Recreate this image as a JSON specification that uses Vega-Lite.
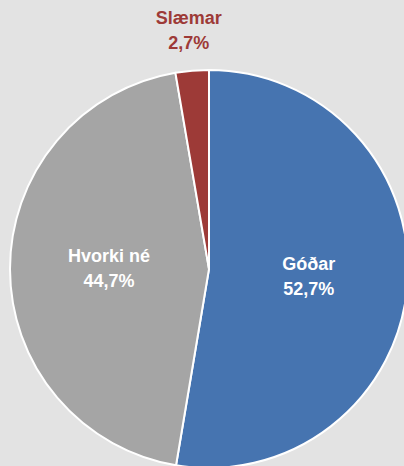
{
  "$schema": "https://vega.github.io/schema/vega-lite/v6.json",
  "width": 404,
  "height": 466,
  "autosize": "none",
  "padding": 0,
  "background": "#e3e3e3",
  "config": {"view": {"stroke": null}},
  "data": {
    "values": [
      {"nr": 1, "flokkur": "Góðar", "hlutfall": 52.7, "merki": "Góðar\n52,7%"},
      {"nr": 2, "flokkur": "Hvorki né", "hlutfall": 44.7, "merki": "Hvorki né\n44,7%"},
      {"nr": 3, "flokkur": "Slæmar", "hlutfall": 2.7, "merki": "Slæmar\n2,7%"}
    ]
  },
  "encoding": {
    "theta": {"field": "hlutfall", "type": "quantitative", "stack": true},
    "order": {"field": "nr", "type": "quantitative"}
  },
  "layer": [
    {
      "mark": {"type": "arc", "x": 209, "y": 269, "radius": 199, "stroke": "white", "strokeWidth": 2},
      "encoding": {
        "color": {
          "field": "flokkur",
          "type": "nominal",
          "scale": {"domain": ["Góðar", "Hvorki né", "Slæmar"], "range": ["#4674b0", "#a5a5a5", "#9d3a37"]},
          "legend": null
        }
      }
    },
    {
      "mark": {
        "type": "text",
        "x": 209,
        "y": 269,
        "dy": -12,
        "radius": {"expr": "datum.flokkur === 'Slæmar' ? 239 : 100"},
        "lineBreak": "\n",
        "lineHeight": 25,
        "font": "Liberation Sans",
        "fontWeight": "bold",
        "fontSize": 18,
        "align": "center",
        "baseline": "middle"
      },
      "encoding": {
        "text": {"field": "merki", "type": "nominal"},
        "color": {
          "condition": {"test": "datum.flokkur === 'Slæmar'", "value": "#9d3a37"},
          "value": "white"
        }
      }
    }
  ]
}
